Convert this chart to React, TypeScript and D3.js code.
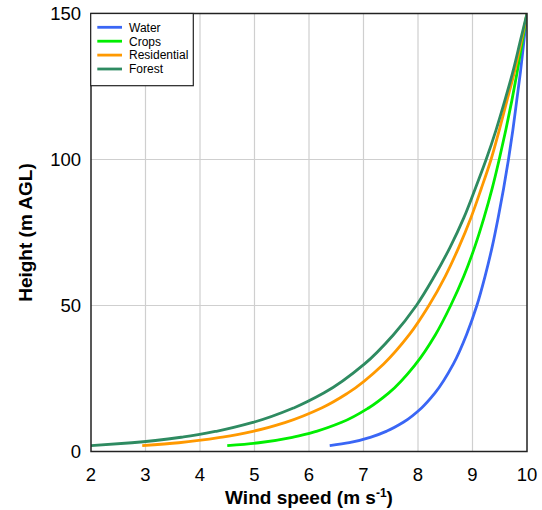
import React from "react";
import * as d3 from "d3";

const heights = [2, 3, 5, 7, 10, 15, 20, 30, 40, 50, 60, 70, 80, 90, 100, 110, 120, 130, 140, 150];
const waterSpeed = [6.38, 6.74, 7.15, 7.43, 7.73, 8.07, 8.31, 8.65, 8.89, 9.08, 9.23, 9.36, 9.47, 9.57, 9.66, 9.74, 9.81, 9.88, 9.94, 10.0];
const cropsSpeed = [4.5, 5.08, 5.73, 6.15, 6.6, 7.1, 7.46, 7.96, 8.32, 8.6, 8.84, 9.04, 9.21, 9.36, 9.49, 9.61, 9.72, 9.82, 9.91, 10.0];
const residentialSpeed = [2.94, 3.61, 4.44, 4.99, 5.57, 6.24, 6.71, 7.37, 7.84, 8.2, 8.5, 8.75, 8.97, 9.16, 9.34, 9.49, 9.63, 9.77, 9.89, 10.0];
const forestSpeed = [2.0, 2.75, 3.7, 4.32, 4.98, 5.73, 6.27, 7.02, 7.55, 7.97, 8.3, 8.59, 8.84, 9.05, 9.25, 9.43, 9.59, 9.74, 9.87, 10.0];

const seriesNames = ["Water", "Crops", "Residential", "Forest"];
const seriesColors = ["#3a66f5", "#00ee00", "#ff9900", "#2e8b61"];
const seriesValues = [waterSpeed, cropsSpeed, residentialSpeed, forestSpeed];

const xTicks = [2, 3, 4, 5, 6, 7, 8, 9, 10];
const yTicks = [0, 50, 100, 150];

const W = 542;
const H = 510;
const L = 91, R = 527, T = 13.5, B = 451.5;

export default function App() {
  const x = d3.scaleLinear().domain([2, 10]).range([L, R]);
  const y = d3.scaleLinear().domain([0, 150]).range([B, T]);
  const line = d3
    .line<[number, number]>()
    .x((d) => x(d[0]))
    .y((d) => y(d[1]))
    .curve(d3.curveMonotoneY);

  const font = "Arial, 'Liberation Sans', sans-serif";

  return (
    <svg
      width={W}
      height={H}
      style={{ position: "absolute", left: 0, top: 0, background: "#fff" }}
      fontFamily={font}
    >
      <defs>
        <clipPath id="plotClip">
          <rect x={L} y={T} width={R - L} height={B - T} />
        </clipPath>
      </defs>
      <rect x={0} y={0} width={W} height={H} fill="#fff" />
      {xTicks.slice(1, -1).map((t) => (
        <line key={"gx" + t} x1={x(t)} x2={x(t)} y1={T} y2={B} stroke="#cfcfcf" strokeWidth={1.2} />
      ))}
      {yTicks.slice(1, -1).map((t) => (
        <line key={"gy" + t} x1={L} x2={R} y1={y(t)} y2={y(t)} stroke="#cfcfcf" strokeWidth={1.2} />
      ))}
      <g clipPath="url(#plotClip)">
        {seriesValues.map((vals, i) => (
          <path
            key={seriesNames[i]}
            d={line(vals.map((v, j) => [v, heights[j]] as [number, number])) || ""}
            fill="none"
            stroke={seriesColors[i]}
            strokeWidth={2.8}
            strokeLinecap="butt"
          />
        ))}
      </g>
      <rect x={L} y={T} width={R - L} height={B - T} fill="none" stroke="#222" strokeWidth={1.5} />
      {xTicks.map((t) => (
        <text key={"xt" + t} x={x(t)} y={480.5} textAnchor="middle" fontSize={18.5} fill="#000">
          {t}
        </text>
      ))}
      {yTicks.map((t) => (
        <text key={"yt" + t} x={81} y={y(t) + 6.6} textAnchor="end" fontSize={18.5} fill="#000">
          {t}
        </text>
      ))}
      <text x={(L + R) / 2} y={503.5} textAnchor="middle" fontSize={19} fontWeight="bold" fill="#000">
        Wind speed (m s
        <tspan dy={-7} fontSize={12}>-1</tspan>
        <tspan dy={7}>)</tspan>
      </text>
      <text
        transform={`translate(32,232.5) rotate(-90)`}
        textAnchor="middle"
        fontSize={19}
        fontWeight="bold"
        fill="#000"
      >
        Height (m AGL)
      </text>
      <rect x={90.7} y={13.5} width={102.6} height={72.2} fill="#fff" stroke="#222" strokeWidth={1.2} />
      {seriesNames.map((n, i) => (
        <g key={"lg" + n}>
          <line x1={97.3} x2={122} y1={27.3 + i * 13.9} y2={27.3 + i * 13.9} stroke={seriesColors[i]} strokeWidth={2.8} />
          <text x={129} y={27.3 + i * 13.9 + 4.3} fontSize={12} fill="#000">
            {n}
          </text>
        </g>
      ))}
    </svg>
  );
}
